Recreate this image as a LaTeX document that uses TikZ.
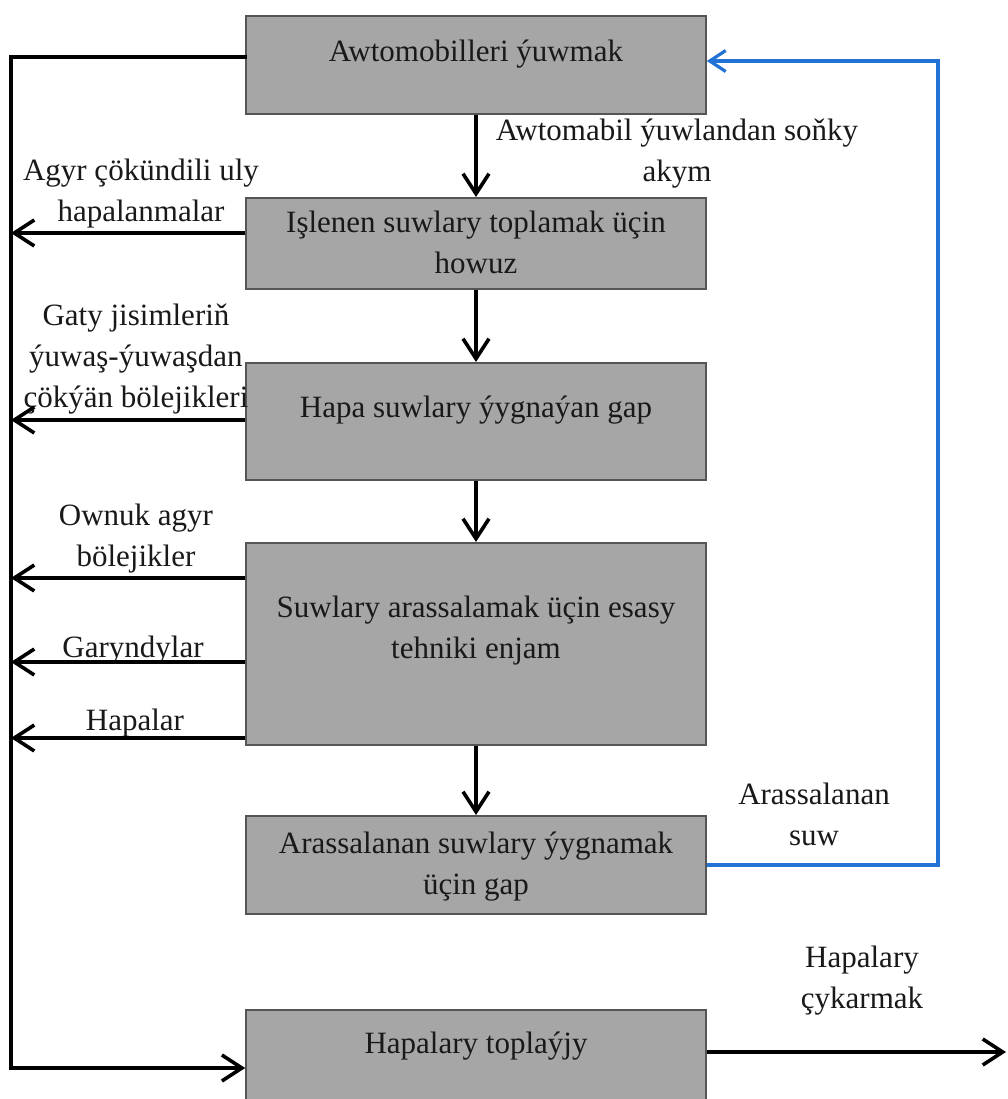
\documentclass[tikz,border=0pt]{standalone}
\usepackage{fontspec}
\setmainfont{Liberation Serif}
\usetikzlibrary{arrows.meta}
\definecolor{boxgray}{RGB}{166,166,166}
\definecolor{boxline}{RGB}{85,85,85}
\definecolor{flowblue}{RGB}{35,115,215}
\begin{document}
\begin{tikzpicture}[x=1pt,y=-1pt,
  box/.style={draw=boxline, line width=1.6pt, fill=boxgray, minimum width=460pt, inner sep=0pt, anchor=north},
  txt/.style={font=\rmfamily\fontsize{31}{41}\selectfont, align=center, anchor=base, inner sep=0pt, text=black!90},
  link/.style={line width=3.6pt},
  flow/.style={line width=3.6pt, -{Straight Barb[length=20pt,width=26pt]}},
  bflow/.style={draw=flowblue, line width=3.2pt, -{Straight Barb[length=16pt,width=21pt]}}
]
\useasboundingbox (0,0) rectangle (1007,1099);
\fill[white] (0,0) rectangle (1007,1099);
\clip (0,0) rectangle (1007,1099);

% boxes
\node[box, minimum height=98pt]  (b1) at (476,15) {};
\node[box, minimum height=91pt]  (b2) at (476,197) {};
\node[box, minimum height=117pt] (b3) at (476,362) {};
\node[box, minimum height=202pt] (b4) at (476,542) {};
\node[box, minimum height=98pt]  (b5) at (476,815) {};
\node[box, minimum height=110pt] (b6) at (476,1009) {};

% box texts (anchor = baseline of last line)
\node[txt] (t1) at (476,62)  {Awtomobilleri ýuwmak};
\node[txt] (t2) at (476,273) {Işlenen suwlary toplamak üçin\\howuz};
\node[txt] (t3) at (476,417) {Hapa suwlary ýygnaýan gap};
\node[txt] (t4) at (476,658) {Suwlary arassalamak üçin esasy\\tehniki enjam};
\node[txt] (t5) at (476,894) {Arassalanan suwlary ýygnamak\\üçin gap};
\node[txt] (t6) at (476,1053) {Hapalary toplaýjy};

% side labels
\node[txt] (l1) at (677,182) {Awtomabil ýuwlandan soňky\\akym};
\node[txt] (l2) at (141,222) {Agyr çökündili uly\\hapalanmalar};
\node[txt] (l3) at (136,407) {Gaty jisimleriň\\ýuwaş-ýuwaşdan\\çökýän bölejikleri};
\node[txt] (l4) at (136,566) {Ownuk agyr\\bölejikler};
\node[txt] (l5) at (133,657) {Garyndylar};
\node[txt] (l6) at (135,730) {Hapalar};
\node[txt] (l7) at (814,845) {Arassalanan\\suw};
\node[txt] (l8) at (862,1008) {Hapalary\\çykarmak};

% coordinates
\coordinate (v0) at (11,57);
\coordinate (v1) at (11,233);
\coordinate (v2) at (11,420);
\coordinate (v3) at (11,578);
\coordinate (v4) at (11,662);
\coordinate (v5) at (11,738);
\coordinate (v6) at (11,1068);
\coordinate (bt) at (938,61);
\coordinate (bb) at (938,865);
\coordinate (out) at (1006,1052);

% main downward flow
\draw[flow] (b1.south) -- (b2.north);
\draw[flow] (b2.south) -- (b3.north);
\draw[flow] (b3.south) -- (b4.north);
\draw[flow] (b4.south) -- (b5.north);

% left collector
\draw[link, line cap=rect] (b1.west |- v0) -- (v0) -- (v6);
\draw[flow] (v6) -- (b6.west |- v6);
\draw[flow] (b2.west |- v1) -- (v1);
\draw[flow] (b3.west |- v2) -- (v2);
\draw[flow] (b4.west |- v3) -- (v3);
\draw[flow] (b4.west |- v4) -- (v4);
\draw[flow] (b4.west |- v5) -- (v5);

% output
\draw[flow] (b6.east |- out) -- (out);

% recycled water
\draw[bflow] (b5.east |- bb) -- (bb) -- (bt) -- (b1.east |- bt);
\end{tikzpicture}
\end{document}
